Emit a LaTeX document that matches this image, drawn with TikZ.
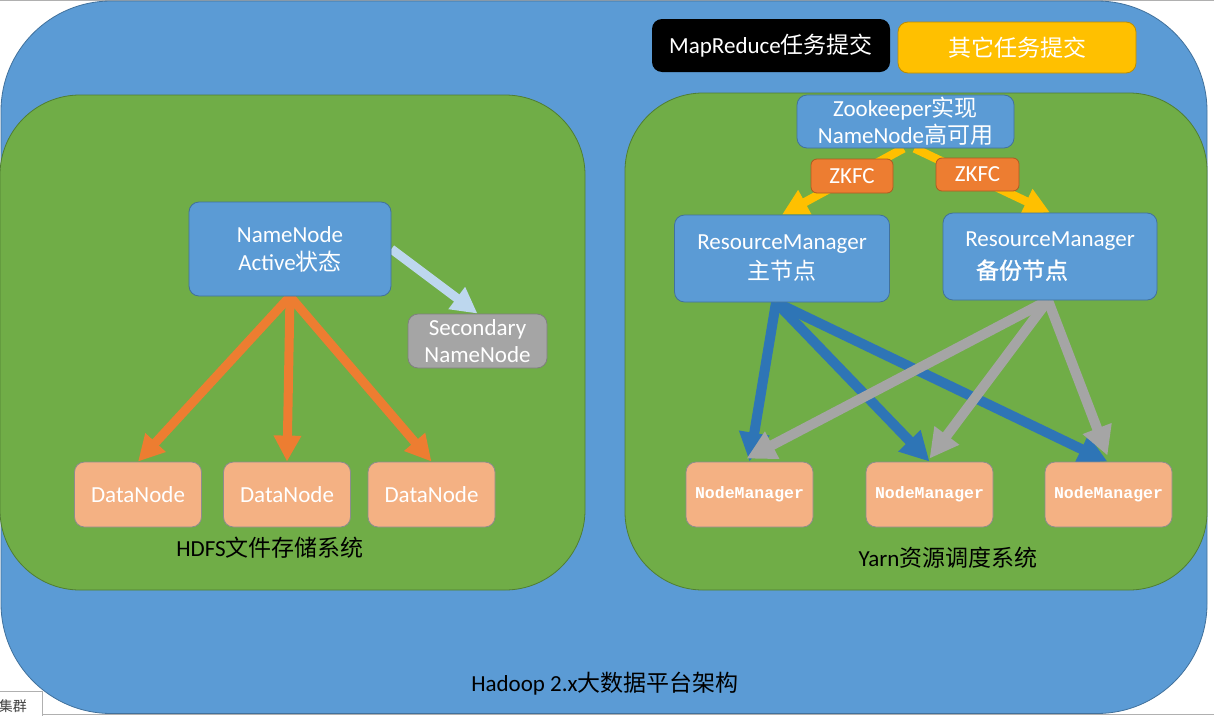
\documentclass[tikz,border=0pt]{standalone}
\usepackage{fontspec}
\setmainfont{Carlito}
\newfontfamily\cjk{Noto Sans CJK SC}
\newfontfamily\cjkb[FakeBold=1.2]{Noto Sans CJK SC}
\newfontfamily\nmfont{Liberation Mono}
\usetikzlibrary{arrows.meta,calc}
\definecolor{bluefill}{HTML}{5B9BD5}
\definecolor{blueline}{HTML}{41719C}
\definecolor{greenfill}{HTML}{70AD47}
\definecolor{greenline}{HTML}{507E32}
\definecolor{orangefill}{HTML}{ED7D31}
\definecolor{orangeline}{HTML}{AE5A21}
\definecolor{peach}{HTML}{F4B183}
\definecolor{peachline}{HTML}{8C8C8C}
\definecolor{gold}{HTML}{FFC000}
\definecolor{goldline}{HTML}{BC8C00}
\definecolor{grayfill}{HTML}{A5A5A5}
\definecolor{grayline}{HTML}{7F7F7F}
\definecolor{lightarrow}{HTML}{BDD7EE}
\definecolor{bluearrow}{HTML}{2E75B6}
\definecolor{tabline}{HTML}{B0B0B0}
\pgfdeclarelayer{bg}
\pgfdeclarelayer{arrlayer}
\pgfsetlayers{bg,arrlayer,main}
\begin{document}
\begin{tikzpicture}[x=1pt,y=-1pt,
  box/.style={rounded corners=10pt, inner sep=0pt, align=center, text=white,
    font=\fontsize{23}{28}\selectfont, line width=0.8pt},
  bluebox/.style={box, fill=bluefill, draw=blueline},
  peachbox/.style={box, fill=peach, draw=peachline, minimum width=127pt, minimum height=65pt},
  nmbox/.style={peachbox, font=\nmfont\bfseries\fontsize{16.5}{20}\selectfont},
  zkfcbox/.style={box, rounded corners=6pt, fill=orangefill, draw=orangeline},
  thinarrow/.style={line width=8.5pt, -{Triangle[length=26pt,width=26pt]}},
  thickarrow/.style={line width=10pt, -{Triangle[length=29pt,width=29pt]}},
  lbl/.style={font=\fontsize{23}{28}\selectfont, text=black, inner sep=0pt},
  tabbox/.style={draw=tabline, fill=white, line width=0.8pt, minimum width=60pt, minimum height=30pt, inner sep=0pt}]
\useasboundingbox (0,0) rectangle (1214,715);

\begin{pgfonlayer}{bg}
\fill[white] (0,0) rectangle (1214,715);
\draw[tabline, line width=1pt] (0,0.5) -- (1214,0.5);
\draw[tabline, line width=1pt] (0,714.5) -- (1214,714.5);
\draw[fill=bluefill, draw=blueline, line width=0.8pt, rounded corners=110pt] (1,1) rectangle (1207,713.5);
\draw[fill=greenfill, draw=greenline, line width=0.8pt, rounded corners=80pt] (0,95) rectangle (585,590);
\draw[fill=greenfill, draw=greenline, line width=0.8pt, rounded corners=78pt] (625,93) rectangle (1207,590);
\end{pgfonlayer}

% top boxes
\node[box, fill=black, minimum width=238pt, minimum height=53pt] (mr) at (771,45.5) {MapReduce{\cjk 任务提交}};
\node[box, fill=gold, draw=goldline, minimum width=238pt, minimum height=51pt] (other) at (1017,47.5) {{\cjk 其它任务提交}};

% Yarn side
\node[bluebox, minimum width=217pt, minimum height=53pt, font=\fontsize{23}{27}\selectfont] (zk) at (905.5,121.5) {Zookeeper{\cjk 实现}\\NameNode{\cjk 高可用}};
\node[zkfcbox, minimum width=82pt, minimum height=34pt] (zkfc1) at (852,176) {ZKFC};
\node[zkfcbox, minimum width=83pt, minimum height=33pt] (zkfc2) at (977.5,174.5) {ZKFC};
\node[bluebox, minimum width=215pt, minimum height=87pt, font=\fontsize{23}{30}\selectfont] (rm1) at (782,258.5) {ResourceManager\\{\cjk 主节点}};
\node[bluebox, minimum width=214pt, minimum height=87pt, font=\fontsize{23}{32}\selectfont] (rm2) at (1050,256.5) {ResourceManager\\\hspace*{-56pt}{\cjkb 备份节点}};
\node[nmbox] (nm1) at (749.5,494.5) {NodeManager};
\node[nmbox] (nm2) at (929.5,494.5) {NodeManager};
\node[nmbox] (nm3) at (1108.5,494.5) {NodeManager};

% HDFS side
\node[bluebox, minimum width=202pt, minimum height=94pt] (nn) at (290,249) {NameNode\\Active{\cjk 状态}};
\node[box, fill=grayfill, draw=grayline, minimum width=139pt, minimum height=54pt, font=\fontsize{23}{27}\selectfont] (snn) at (477.5,341) {Secondary\\NameNode};
\node[peachbox] (dn1) at (138,494.5) {DataNode};
\node[peachbox] (dn2) at (287,494.5) {DataNode};
\node[peachbox] (dn3) at (431.5,494.5) {DataNode};

% labels
\node[lbl] (hdfs) at (270,548) {HDFS{\cjk 文件存储系统}};
\node[lbl] (yarn) at (948,558) {Yarn{\cjk 资源调度系统}};
\node[lbl] (hadoop) at (605,684) {Hadoop 2.x{\cjk 大数据平台架构}};

% tab at bottom left
\node[tabbox, anchor=north east] (tab) at (43,691) {};
\node[inner sep=0pt, anchor=east, text=black!75, font=\cjk\fontsize{14}{16}\selectfont] (tabtext) at (27,706) {集群};

\begin{pgfonlayer}{arrlayer}
\draw[thinarrow, lightarrow, line width=9pt] (nn.east) -- (snn.north);
\draw[thinarrow, orangefill, line width=9pt] (nn.south) -- (dn1.north);
\draw[thinarrow, orangefill, line width=9pt] (nn.south) -- (dn2.north);
\draw[thinarrow, orangefill, line width=9pt] (nn.south) -- (dn3.north);
\draw[thinarrow, gold] ([xshift=-2pt]zk.south) -- (rm1.north);
\draw[thinarrow, gold] ([xshift=9pt]zk.south) -- (rm2.north);
\draw[thickarrow, bluearrow] ([xshift=-6pt]rm1.south) -- (nm1.north);
\draw[thickarrow, bluearrow] ([xshift=-6pt]rm1.south) -- (nm2.north);
\draw[thickarrow, bluearrow] ([xshift=-6pt]rm1.south) -- ([xshift=-1pt]nm3.north);
\draw[thickarrow, grayfill] ([xshift=-2pt]rm2.south) -- ([xshift=-3pt,yshift=3pt]nm1.north);
\draw[thickarrow, grayfill] ([xshift=-2pt]rm2.south) -- ([yshift=3pt]nm2.north);
\draw[thickarrow, grayfill] ([xshift=-2pt]rm2.south) -- ([xshift=-1pt,yshift=6pt]nm3.north);
\end{pgfonlayer}
\end{tikzpicture}
\end{document}
